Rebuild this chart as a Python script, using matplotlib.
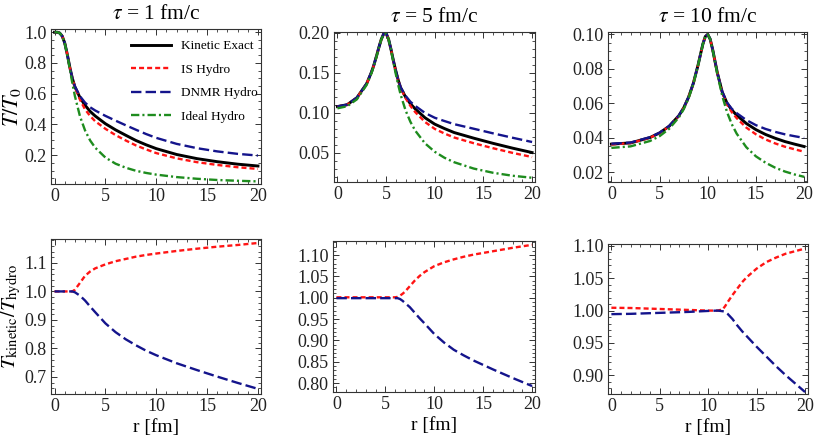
import matplotlib
matplotlib.use("Agg")
import matplotlib.pyplot as plt
from matplotlib.ticker import MultipleLocator, FormatStrFormatter

plt.rcParams['font.family'] = ['Liberation Serif', 'DejaVu Serif']
plt.rcParams['mathtext.fontset'] = 'stix'
plt.rcParams['lines.scale_dashes'] = False

# ---------------- data: tau = 1 fm/c ----------------
r1 = [0, 0.25, 0.5, 0.75, 1, 1.25, 1.5, 1.75, 2, 2.5, 3, 3.5, 4, 5, 6, 7, 8, 9, 10, 12, 14, 16, 18, 20]
kin1 = [1.0, 1.0, 0.995, 0.975, 0.930, 0.856, 0.772, 0.700, 0.645, 0.575, 0.525, 0.485, 0.455, 0.405,
        0.365, 0.330, 0.296, 0.268, 0.243, 0.205, 0.178, 0.158, 0.142, 0.130]
is1 = [1.0, 1.0, 0.995, 0.975, 0.930, 0.856, 0.772, 0.700, 0.643, 0.561, 0.498, 0.455, 0.421, 0.372,
       0.331, 0.296, 0.264, 0.238, 0.214, 0.180, 0.155, 0.137, 0.122, 0.111]
dnmr1 = [1.0, 1.0, 0.995, 0.975, 0.930, 0.856, 0.772, 0.700, 0.647, 0.584, 0.542, 0.512, 0.491, 0.456,
         0.425, 0.395, 0.366, 0.338, 0.313, 0.274, 0.246, 0.225, 0.209, 0.198]
ideal1 = [1.0, 1.0, 0.995, 0.975, 0.928, 0.853, 0.762, 0.669, 0.585, 0.453, 0.361, 0.296, 0.249, 0.185,
          0.145, 0.119, 0.099, 0.085, 0.074, 0.058, 0.047, 0.039, 0.034, 0.030]

# ratio T_kinetic / T_hydro, tau = 1
rr1 = [0, 0.5, 1, 1.5, 1.75, 2, 2.5, 3, 3.5, 4, 5, 6, 7, 8, 9, 10, 12, 14, 16, 18, 20]
ratio_is1 = [1.0, 1.0, 1.0, 1.0, 1.0, 1.006, 1.030, 1.055, 1.070, 1.081, 1.095, 1.106, 1.114, 1.122,
             1.128, 1.133, 1.142, 1.150, 1.157, 1.163, 1.170]
ratio_dnmr1 = [1.0, 1.0, 1.0, 1.0, 1.0, 0.997, 0.985, 0.968, 0.947, 0.927, 0.888, 0.857, 0.832, 0.811,
               0.792, 0.776, 0.748, 0.724, 0.701, 0.679, 0.658]

# ---------------- data: tau = 5 fm/c ----------------
r2 = [0, 1, 2, 3, 3.5, 3.75, 4, 4.25, 4.5, 4.75, 5, 5.25, 5.5, 5.75, 6, 6.25, 6.5, 7, 7.5, 8, 9, 10,
      11, 12, 14, 16, 18, 20]
kin2 = [0.1080, 0.1103, 0.1190, 0.1365, 0.1510, 0.1600, 0.1705, 0.1815, 0.1918, 0.1988, 0.1996, 0.1925,
        0.1798, 0.1655, 0.1525, 0.1410, 0.1315, 0.1200, 0.1115, 0.1050, 0.0940, 0.0860, 0.0805, 0.0755,
        0.0685, 0.0620, 0.0560, 0.0505]
is2 = [0.1079, 0.1102, 0.1189, 0.1364, 0.1508, 0.1598, 0.1703, 0.1813, 0.1916, 0.1986, 0.1994, 0.1923,
       0.1796, 0.1653, 0.1523, 0.1409, 0.1311, 0.1186, 0.1088, 0.1010, 0.0887, 0.0801, 0.0743, 0.0693,
       0.0622, 0.0559, 0.0501, 0.0449]
dnmr2 = [0.1081, 0.1104, 0.1191, 0.1366, 0.1512, 0.1602, 0.1707, 0.1817, 0.1920, 0.1990, 0.1998, 0.1927,
         0.1800, 0.1657, 0.1527, 0.1411, 0.1319, 0.1215, 0.1140, 0.1088, 0.1000, 0.0940, 0.0899, 0.0860,
         0.0803, 0.0745, 0.0690, 0.0637]
ideal2 = [0.1058, 0.1084, 0.1170, 0.1350, 0.1498, 0.1591, 0.1696, 0.1809, 0.1914, 0.1987, 0.1994, 0.1922,
          0.1792, 0.1638, 0.1486, 0.1348, 0.1227, 0.1033, 0.0889, 0.0778, 0.0620, 0.0515, 0.0440, 0.0384,
          0.0305, 0.0252, 0.0215, 0.0190]

rr2 = [0, 1, 2, 3, 4, 5, 5.5, 6, 6.25, 6.5, 6.75, 7, 7.5, 8, 8.5, 9, 10, 11, 12, 13, 14, 16, 18, 20]
ratio_is2 = [1.001, 1.001, 1.001, 1.001, 1.001, 1.001, 1.001, 1.001, 1.002, 1.005, 1.009, 1.014, 1.027,
             1.040, 1.051, 1.060, 1.074, 1.083, 1.090, 1.096, 1.101, 1.109, 1.117, 1.124]
ratio_dnmr2 = [0.999, 0.999, 0.999, 0.999, 0.999, 0.999, 0.999, 0.999, 0.999, 0.997, 0.993, 0.988, 0.978,
               0.965, 0.952, 0.940, 0.915, 0.895, 0.878, 0.865, 0.853, 0.832, 0.812, 0.793]

# ---------------- data: tau = 10 fm/c ----------------
r3 = [0, 2, 4, 5, 6, 7, 7.5, 8, 8.5, 9, 9.25, 9.5, 9.75, 10, 10.25, 10.5, 10.75, 11, 11.5, 12, 12.5,
      13, 14, 15, 16, 17, 18, 19, 20]
kin3 = [0.0362, 0.0369, 0.0400, 0.0427, 0.0466, 0.0527, 0.0572, 0.0633, 0.0714, 0.0822, 0.0884, 0.0944,
        0.0987, 0.0999, 0.0972, 0.0914, 0.0844, 0.0775, 0.0665, 0.0600, 0.0560, 0.0530, 0.0482, 0.0446,
        0.0418, 0.0396, 0.0377, 0.0362, 0.0348]
is3 = [0.0360, 0.0368, 0.0399, 0.0426, 0.0465, 0.0526, 0.0571, 0.0632, 0.0713, 0.0822, 0.0884, 0.0944,
       0.0987, 0.0999, 0.0972, 0.0914, 0.0844, 0.0775, 0.0664, 0.0592, 0.0547, 0.0513, 0.0458, 0.0419,
       0.0389, 0.0366, 0.0347, 0.0332, 0.0318]
dnmr3 = [0.0364, 0.0371, 0.0402, 0.0428, 0.0467, 0.0528, 0.0573, 0.0634, 0.0715, 0.0823, 0.0884, 0.0944,
         0.0987, 0.0999, 0.0972, 0.0914, 0.0844, 0.0775, 0.0666, 0.0603, 0.0567, 0.0542, 0.0502, 0.0472,
         0.0450, 0.0433, 0.0419, 0.0408, 0.0398]
ideal3 = [0.0340, 0.0349, 0.0380, 0.0408, 0.0451, 0.0517, 0.0564, 0.0627, 0.0710, 0.0821, 0.0883, 0.0943,
          0.0987, 0.0999, 0.0971, 0.0912, 0.0840, 0.0768, 0.0643, 0.0548, 0.0477, 0.0423, 0.0344, 0.0291,
          0.0254, 0.0225, 0.0203, 0.0186, 0.0172]

rr3 = [0, 2, 4, 6, 8, 10, 11, 11.5, 11.75, 12, 12.5, 13, 13.5, 14, 15, 16, 17, 18, 19, 20]
ratio_is3 = [1.0044, 1.0040, 1.0030, 1.0020, 1.0010, 1.0, 1.0, 1.002, 1.007, 1.013, 1.024, 1.034, 1.044,
             1.052, 1.065, 1.075, 1.082, 1.088, 1.092, 1.096]
ratio_dnmr3 = [0.9945, 0.995, 0.996, 0.997, 0.998, 0.9995, 1.0, 0.999, 0.998, 0.995, 0.987, 0.977, 0.968,
               0.960, 0.944, 0.929, 0.914, 0.900, 0.887, 0.874]

titles = [r"$\tau$ = 1 fm/c", r"$\tau$ = 5 fm/c", r"$\tau$ = 10 fm/c"]
labels = ["Kinetic Exact", "IS Hydro", "DNMR Hydro", "Ideal Hydro"]

# ---------------- styles ----------------
C_RED, C_BLUE, C_GREEN = "#ff1414", "#14148c", "#1e8c1e"
ST_KIN = dict(color="black", lw=2.1, ls="-")
ST_IS = dict(color=C_RED, lw=1.7, ls=(0, (3.6, 2.2)))
ST_DNMR = dict(color=C_BLUE, lw=1.7, ls=(0, (7.5, 3.0)))
ST_IDEAL = dict(color=C_GREEN, lw=1.7, ls=(0, (6.0, 2.2, 1.5, 2.2)))

fig = plt.figure(figsize=(8.14, 4.42), dpi=100)
W, H = 814, 442
def box(x0, x1, y0, y1):
    return [x0 / W, 1 - y1 / H, (x1 - x0) / W, (y1 - y0) / H]

top_boxes = [box(51, 261, 29, 184), box(334, 535, 32, 182), box(608, 807, 32, 182)]
bot_boxes = [box(51, 261, 239, 394), box(333, 535, 241, 392), box(608, 808, 244, 394)]
top_ylims = [(0.013, 1.021), (0.0137, 0.2012), (0.0142, 0.1013)]
top_major = [0.2, 0.05, 0.02]
top_minor = [0.05, 0.01, 0.005]
top_fmt = ["%.1f", "%.2f", "%.2f"]
bot_ylims = [(0.64, 1.184), (0.779, 1.133), (0.871, 1.103)]
bot_major = [0.1, 0.05, 0.05]
bot_minor = [0.02, 0.01, 0.01]
bot_fmt = ["%.1f", "%.2f", "%.2f"]

tops = [(r1, kin1, is1, dnmr1, ideal1), (r2, kin2, is2, dnmr2, ideal2), (r3, kin3, is3, dnmr3, ideal3)]
bots = [(rr1, ratio_is1, ratio_dnmr1), (rr2, ratio_is2, ratio_dnmr2), (rr3, ratio_is3, ratio_dnmr3)]

def style(ax, major, minor, fmt):
    ax.set_xlim(-0.35, 20.3)
    ax.xaxis.set_major_locator(MultipleLocator(5))
    ax.xaxis.set_minor_locator(MultipleLocator(1))
    ax.yaxis.set_major_locator(MultipleLocator(major))
    ax.yaxis.set_minor_locator(MultipleLocator(minor))
    ax.yaxis.set_major_formatter(FormatStrFormatter(fmt))
    ax.tick_params(which="both", direction="in", top=True, right=True, labelsize=13,
                   pad=3, labelcolor="#222222", color="#333333")
    ax.tick_params(which="major", length=4, width=0.7)
    ax.tick_params(which="minor", length=2, width=0.6)
    for s in ax.spines.values():
        s.set_linewidth(0.8)
        s.set_color("#333333")

for i in range(3):
    ax = fig.add_axes(top_boxes[i])
    r, k, s_is, s_dn, s_id = tops[i]
    ax.plot(r, k, label=labels[0], **ST_KIN)
    ax.plot(r, s_is, label=labels[1], **ST_IS)
    ax.plot(r, s_dn, label=labels[2], **ST_DNMR)
    ax.plot(r, s_id, label=labels[3], **ST_IDEAL)
    ax.set_ylim(*top_ylims[i])
    style(ax, top_major[i], top_minor[i], top_fmt[i])
    ax.set_title(titles[i], fontsize=15.5, pad=7)
    if i == 0:
        ax.set_ylabel(r"$T/T_0$", fontsize=16)
        ax.yaxis.set_label_coords(-0.135, 0.5)
        ax.legend(loc="upper left", bbox_to_anchor=(0.35, 0.97), frameon=False, fontsize=9.5,
                  handlelength=3.0, handletextpad=0.8, labelspacing=0.85, borderpad=0)

    ax = fig.add_axes(bot_boxes[i])
    r, q_is, q_dn = bots[i]
    ax.plot(r, q_is, **ST_IS)
    ax.plot(r, q_dn, **ST_DNMR)
    ax.set_ylim(*bot_ylims[i])
    style(ax, bot_major[i], bot_minor[i], bot_fmt[i])
    ax.set_xlabel("r [fm]", fontsize=14, labelpad=3)
    if i == 0:
        ax.set_ylabel(r"$T_{\rm kinetic}/T_{\rm hydro}$", fontsize=15)
        ax.yaxis.set_label_coords(-0.135, 0.5)

fig.savefig("out.png", dpi=100)
